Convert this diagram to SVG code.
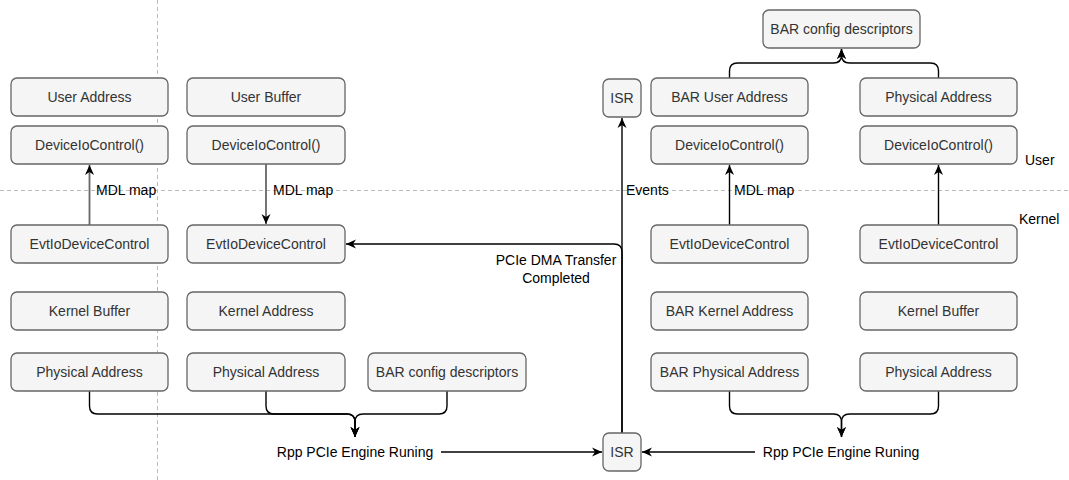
<svg xmlns="http://www.w3.org/2000/svg" width="1069" height="480" viewBox="0 0 1069 480">
<style>
.box{fill:#f5f5f5;stroke:#666;stroke-width:1.3}
.bt{font-family:"Liberation Sans",Arial,sans-serif;font-size:14px;fill:#333;text-anchor:middle;dominant-baseline:central}
.lb{font-family:"Liberation Sans",Arial,sans-serif;font-size:14px;fill:#000;dominant-baseline:central}
.e{fill:none;stroke:#000;stroke-width:1.4}
.g{stroke:#666;stroke-width:1.8}
.d{fill:none;stroke:#bbb;stroke-width:1;stroke-dasharray:4 3}
</style>
<defs>
<marker id="ar" viewBox="0 0 10 10" refX="10" refY="5" markerWidth="10" markerHeight="10" markerUnits="userSpaceOnUse" orient="auto">
<path d="M0,0.5 L10,5 L0,9.5 L3,5 Z" fill="#000"/>
</marker>
</defs>
<rect width="1069" height="480" fill="#fff"/>
<g id="separators">
<line class="d" x1="0" y1="190.5" x2="1069" y2="190.5"/>
<line class="d" x1="157.5" y1="0" x2="157.5" y2="480"/>
</g>
<g id="connectors">
<path class="e g" d="M89.5,225 V165" marker-end="url(#ar)"/>
<path class="e g" d="M266,164 V224" marker-end="url(#ar)"/>
<path class="e" d="M729.5,225 V165" marker-end="url(#ar)"/>
<path class="e" d="M938.5,225 V165" marker-end="url(#ar)"/>
<path class="e" d="M729.5,79 V71 Q729.5,63 737.5,63 H833.5 Q841.5,63 841.5,55 V49" marker-end="url(#ar)"/>
<path class="e" d="M938.5,79 V71 Q938.5,63 930.5,63 H849.5 Q841.5,63 841.5,55 V49" marker-end="url(#ar)"/>
<path class="e" d="M89.5,391 V406 Q89.5,414 97.5,414 H347 Q355,414 355,422 V437" marker-end="url(#ar)"/>
<path class="e" d="M266,391 V406 Q266,414 274,414 H347 Q355,414 355,422 V437" marker-end="url(#ar)"/>
<path class="e" d="M447,391 V406 Q447,414 439,414 H363 Q355,414 355,422 V437" marker-end="url(#ar)"/>
<path class="e" d="M729.5,391 V406 Q729.5,414 737.5,414 H833.5 Q841.5,414 841.5,422 V437" marker-end="url(#ar)"/>
<path class="e" d="M938.5,391 V406 Q938.5,414 930.5,414 H849.5 Q841.5,414 841.5,422 V437" marker-end="url(#ar)"/>
<path class="e" d="M441,452 H602" marker-end="url(#ar)"/>
<path class="e" d="M755,452 H642" marker-end="url(#ar)"/>
<path class="e" d="M622,433 V118" marker-end="url(#ar)"/>
<path class="e" d="M622,433 V252 Q622,244 614,244 H346" marker-end="url(#ar)"/>
<text class="lb" x="96" y="190">MDL map</text>
<text class="lb" x="273" y="190">MDL map</text>
<text class="lb" x="734" y="190">MDL map</text>
<text class="lb" x="626" y="190">Events</text>
<text class="lb" x="556" y="260" text-anchor="middle">PCIe DMA Transfer</text>
<text class="lb" x="556" y="278" text-anchor="middle">Completed</text>
</g>
<g id="n-user-address"><rect class="box" x="11" y="78" width="157" height="38" rx="6"/><text class="bt" x="89.5" y="97">User Address</text></g>
<g id="n-dioc-1"><rect class="box" x="11" y="126" width="157" height="38" rx="6"/><text class="bt" x="89.5" y="145">DeviceIoControl()</text></g>
<g id="n-evt-1"><rect class="box" x="11" y="225" width="157" height="38" rx="6"/><text class="bt" x="89.5" y="244">EvtIoDeviceControl</text></g>
<g id="n-kbuf-1"><rect class="box" x="11" y="292" width="157" height="38" rx="6"/><text class="bt" x="89.5" y="311">Kernel Buffer</text></g>
<g id="n-phys-1"><rect class="box" x="11" y="353" width="157" height="38" rx="6"/><text class="bt" x="89.5" y="372">Physical Address</text></g>

<g id="n-user-buffer"><rect class="box" x="187" y="78" width="158" height="38" rx="6"/><text class="bt" x="266" y="97">User Buffer</text></g>
<g id="n-dioc-2"><rect class="box" x="187" y="126" width="158" height="38" rx="6"/><text class="bt" x="266" y="145">DeviceIoControl()</text></g>
<g id="n-evt-2"><rect class="box" x="187" y="225" width="158" height="38" rx="6"/><text class="bt" x="266" y="244">EvtIoDeviceControl</text></g>
<g id="n-kaddr-2"><rect class="box" x="187" y="292" width="158" height="38" rx="6"/><text class="bt" x="266" y="311">Kernel Address</text></g>
<g id="n-phys-2"><rect class="box" x="187" y="353" width="158" height="38" rx="6"/><text class="bt" x="266" y="372">Physical Address</text></g>

<g id="n-bar-desc-left"><rect class="box" x="368" y="353" width="158" height="38" rx="6"/><text class="bt" x="447" y="372">BAR config descriptors</text></g>

<g id="n-rpp-left"><text class="lb" x="355" y="452" text-anchor="middle">Rpp PCIe Engine Runing</text></g>
<g id="n-rpp-right"><text class="lb" x="841" y="452" text-anchor="middle">Rpp PCIe Engine Runing</text></g>

<g id="n-isr-top"><rect class="box" x="603" y="79" width="38" height="38" rx="6"/><text class="bt" x="622" y="98">ISR</text></g>
<g id="n-isr-bottom"><rect class="box" x="603" y="433" width="38" height="38" rx="6"/><text class="bt" x="622" y="452">ISR</text></g>

<g id="n-bar-desc-top"><rect class="box" x="763" y="10" width="157" height="38" rx="6"/><text class="bt" x="841.5" y="29">BAR config descriptors</text></g>

<g id="n-bar-user"><rect class="box" x="651" y="78" width="157" height="38" rx="6"/><text class="bt" x="729.5" y="97">BAR User Address</text></g>
<g id="n-dioc-3"><rect class="box" x="651" y="126" width="157" height="38" rx="6"/><text class="bt" x="729.5" y="145">DeviceIoControl()</text></g>
<g id="n-evt-3"><rect class="box" x="651" y="225" width="157" height="38" rx="6"/><text class="bt" x="729.5" y="244">EvtIoDeviceControl</text></g>
<g id="n-bar-kernel"><rect class="box" x="651" y="292" width="157" height="38" rx="6"/><text class="bt" x="729.5" y="311">BAR Kernel Address</text></g>
<g id="n-bar-phys"><rect class="box" x="651" y="353" width="157" height="38" rx="6"/><text class="bt" x="729.5" y="372">BAR Physical Address</text></g>

<g id="n-phys-top"><rect class="box" x="860" y="78" width="157" height="38" rx="6"/><text class="bt" x="938.5" y="97">Physical Address</text></g>
<g id="n-dioc-4"><rect class="box" x="860" y="126" width="157" height="38" rx="6"/><text class="bt" x="938.5" y="145">DeviceIoControl()</text></g>
<g id="n-evt-4"><rect class="box" x="860" y="225" width="157" height="38" rx="6"/><text class="bt" x="938.5" y="244">EvtIoDeviceControl</text></g>
<g id="n-kbuf-4"><rect class="box" x="860" y="292" width="157" height="38" rx="6"/><text class="bt" x="938.5" y="311">Kernel Buffer</text></g>
<g id="n-phys-4"><rect class="box" x="860" y="353" width="157" height="38" rx="6"/><text class="bt" x="938.5" y="372">Physical Address</text></g>

<g id="lbl-user"><text class="lb" x="1025" y="160">User</text></g>
<g id="lbl-kernel"><text class="lb" x="1019" y="219">Kernel</text></g>
</svg>
